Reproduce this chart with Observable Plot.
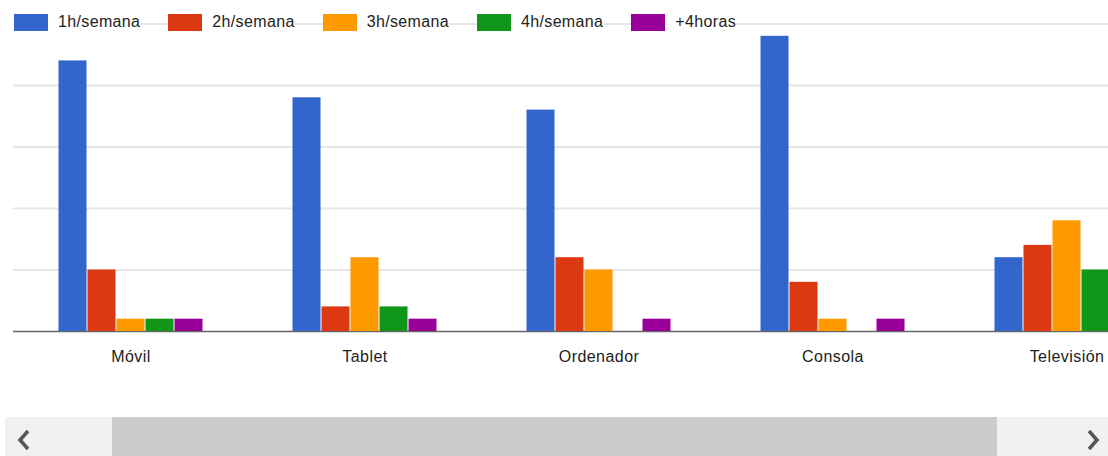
<!DOCTYPE html>
<html>
<head>
<meta charset="utf-8">
<script src="https://cdn.jsdelivr.net/npm/d3@7"></script>
<script src="https://cdn.jsdelivr.net/npm/@observablehq/plot@0.6"></script>
<style>
  html, body { margin: 0; padding: 0; background: #fff; overflow: hidden; width: 1108px; height: 456px; }
  #wrap { position: relative; width: 1108px; height: 456px; overflow: hidden; font-family: "Liberation Sans", Arial, sans-serif; }
  .layer { position: absolute; left: 0; top: 0; }
  .layer svg { max-width: none !important; display: block; }
  #legend { position: absolute; left: 14px; top: 13px; display: flex; gap: 28px; align-items: center; }
  .item { display: flex; align-items: center; gap: 10px; background: #fff; font-size: 16px; letter-spacing: 0.35px; color: #222; }
  .sw { width: 34px; height: 17px; box-sizing: border-box; }
  #scroll { position: absolute; left: 5px; right: 0; top: 417px; height: 39px; background: #f0f0f0; }
  #thumb { position: absolute; left: 107px; width: 885px; top: 0; bottom: 0; background: #cccccc; }
  .arrow { position: absolute; top: 12px; }
</style>
</head>
<body>
<div id="wrap">
  <div id="grid" class="layer"></div>
  <div id="chart" class="layer"></div>
  <div id="legend"></div>
  <div id="scroll">
    <div id="thumb"></div>
    <svg class="arrow" style="left:11px" width="16" height="22"><polyline points="12,2 4,11 12,20" fill="none" stroke="#555" stroke-width="3.5"/></svg>
    <svg class="arrow" style="left:1080px" width="16" height="22"><polyline points="4,2 12,11 4,20" fill="none" stroke="#555" stroke-width="3.5"/></svg>
  </div>
</div>
<script>
const categories = ["Móvil", "Tablet", "Ordenador", "Consola", "Televisión"];
const series = ["1h/semana", "2h/semana", "3h/semana", "4h/semana", "+4horas"];
const v1h = [22, 19, 18, 24, 6];
const v2h = [5, 2, 6, 4, 7];
const v3h = [1, 6, 5, 1, 9];
const v4h = [1, 2, 0, 0, 5];
const vMas4 = [1, 1, 1, 1, 3];
const gridTicks = [5, 10, 15, 20, 25];
const colors = ["#3366cc", "#dc3912", "#ff9900", "#109618", "#990099"];

const values = [v1h, v2h, v3h, v4h, vMas4];
const data = categories.flatMap((c, i) => series.map((s, j) => ({category: c, series: s, value: values[j][i]})));

const common = {
  width: 1184,
  height: 410,
  marginLeft: 13,
  marginRight: 0,
  marginTop: 23.5,
  marginBottom: 79,
  y: {domain: [0, 25], axis: null},
  style: {fontSize: "16px", letterSpacing: "0.45px", fontFamily: "'Liberation Sans', Arial, sans-serif", color: "#222", background: "transparent", maxWidth: "none"}
};

const gridPlot = Plot.plot({
  ...common,
  x: {axis: null},
  marks: [
    Plot.ruleY(gridTicks, {stroke: "#e6e6e6", strokeWidth: 2}),
    Plot.ruleY([0], {stroke: "#666", strokeWidth: 1.6})
  ]
});
document.getElementById("grid").appendChild(gridPlot);

const chart = Plot.plot({
  ...common,
  fx: {domain: categories, paddingInner: 0.372, paddingOuter: 0.188, label: null, tickSize: 0, tickPadding: 19, axis: "bottom"},
  x: {domain: series, padding: 0, axis: null},
  color: {domain: series, range: colors},
  marks: [
    Plot.barY(data, {fx: "category", x: "series", y: "value", fill: "series", insetLeft: 0.5, insetRight: 0.5})
  ]
});
document.getElementById("chart").appendChild(chart);

const legend = document.getElementById("legend");
series.forEach((s, j) => {
  const it = document.createElement("div");
  it.className = "item";
  const sw = document.createElement("div");
  sw.className = "sw";
  sw.style.background = colors[j];
  const t = document.createElement("span");
  t.textContent = s;
  it.appendChild(sw);
  it.appendChild(t);
  legend.appendChild(it);
});
</script>
</body>
</html>
